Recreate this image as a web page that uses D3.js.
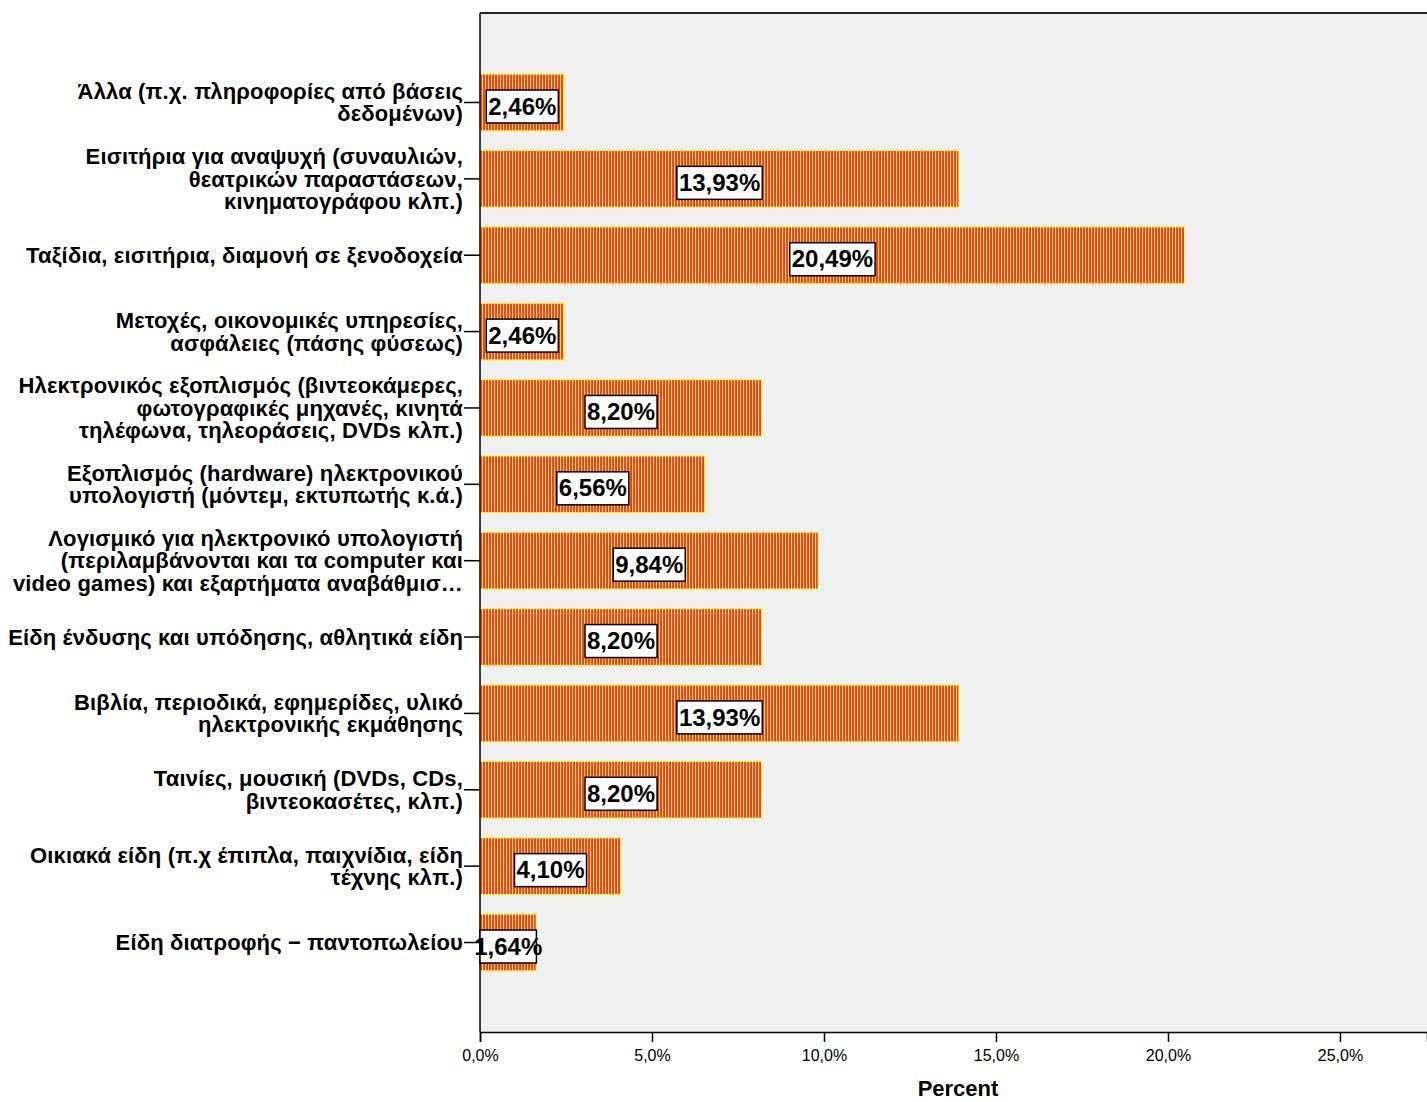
<!DOCTYPE html>
<html>
<head>
<meta charset="utf-8">
<script src="https://cdn.jsdelivr.net/npm/d3@7"></script>
<style>
  html, body { margin: 0; padding: 0; background: #fff; }
  svg { display: block; font-family: "Liberation Sans", Arial, sans-serif; }
</style>
</head>
<body>
<svg id="chart" width="1427" height="1102"></svg>
<script>
// Category labels (each entry is the list of wrapped lines), top to bottom
const categories = [
  ["Άλλα (π.χ. πληροφορίες από βάσεις", "δεδομένων)"],
  ["Εισιτήρια για αναψυχή (συναυλιών,", "θεατρικών παραστάσεων,", "κινηματογράφου κλπ.)"],
  ["Ταξίδια, εισιτήρια, διαμονή σε ξενοδοχεία"],
  ["Μετοχές, οικονομικές υπηρεσίες,", "ασφάλειες (πάσης φύσεως)"],
  ["Ηλεκτρονικός εξοπλισμός (βιντεοκάμερες,", "φωτογραφικές μηχανές, κινητά", "τηλέφωνα, τηλεοράσεις, DVDs κλπ.)"],
  ["Εξοπλισμός (hardware) ηλεκτρονικού", "υπολογιστή (μόντεμ, εκτυπωτής κ.ά.)"],
  ["Λογισμικό για ηλεκτρονικό υπολογιστή", "(περιλαμβάνονται και τα computer και", "video games) και εξαρτήματα αναβάθμισ…"],
  ["Είδη ένδυσης και υπόδησης, αθλητικά είδη"],
  ["Βιβλία, περιοδικά, εφημερίδες, υλικό", "ηλεκτρονικής εκμάθησης"],
  ["Ταινίες, μουσική (DVDs, CDs,", "βιντεοκασέτες, κλπ.)"],
  ["Οικιακά είδη (π.χ έπιπλα, παιχνίδια, είδη", "τέχνης κλπ.)"],
  ["Είδη διατροφής − παντοπωλείου"]
];

// Percent of respondents per category
const percents = [2.46, 13.93, 20.49, 2.46, 8.20, 6.56, 9.84, 8.20, 13.93, 8.20, 4.10, 1.64];

// Axis ticks
const xTicks = [0, 5, 10, 15, 20, 25];
const xAxisTitle = "Percent";

const svg = d3.select("#chart");
const plot = { left: 480, top: 13, right: 1427, bottom: 1032 };

const x = d3.scaleLinear().domain([0, 27.53]).range([plot.left, plot.right]);
const y = d3.scaleBand()
  .domain(d3.range(categories.length))
  .range([plot.top, plot.bottom])
  .paddingInner(0.25)
  .paddingOuter(0.797);

const fmt = v => v.toFixed(2).replace(".", ",") + "%";
const fmtTick = v => v.toFixed(1).replace(".", ",") + "%";

// Vertical red/yellow stripe fill for the bars
const defs = svg.append("defs");
const pat = defs.append("pattern")
  .attr("id", "stripes")
  .attr("patternUnits", "userSpaceOnUse")
  .attr("width", 3).attr("height", 10);
pat.append("rect").attr("width", 3).attr("height", 10).attr("fill", "#fcdc4c");
pat.append("rect").attr("x", 0.2).attr("width", 1.7).attr("height", 10).attr("fill", "#e52a2a");

// Plot background
svg.append("rect")
  .attr("x", plot.left).attr("y", plot.top)
  .attr("width", plot.right - plot.left).attr("height", plot.bottom - plot.top)
  .attr("fill", "#f0f0f0");

// Bars
svg.append("g").selectAll("rect")
  .data(percents)
  .join("rect")
  .attr("x", x(0))
  .attr("y", (d, i) => y(i))
  .attr("width", d => x(d) - x(0))
  .attr("height", y.bandwidth())
  .attr("fill", "url(#stripes)")
  .attr("stroke", "#fdf47a")
  .attr("stroke-width", 1.5);

// Frame line along the top
svg.append("line")
  .attr("x1", plot.left).attr("x2", plot.right)
  .attr("y1", plot.top).attr("y2", plot.top)
  .attr("stroke", "#222").attr("stroke-width", 2);

// Left axis with ticks at band centres
const yAxisG = svg.append("g");
yAxisG.append("line")
  .attr("x1", plot.left).attr("x2", plot.left)
  .attr("y1", plot.top).attr("y2", plot.bottom)
  .attr("stroke", "#000").attr("stroke-width", 1.5);
yAxisG.selectAll("line.tick")
  .data(categories)
  .join("line")
  .attr("class", "tick")
  .attr("x1", plot.left - 16).attr("x2", plot.left)
  .attr("y1", (d, i) => y(i) + y.bandwidth() / 2)
  .attr("y2", (d, i) => y(i) + y.bandwidth() / 2)
  .attr("stroke", "#000").attr("stroke-width", 1.5);

// Category labels, right aligned beside the axis
const lineH = 22.5;
yAxisG.selectAll("text.cat")
  .data(categories)
  .join("text")
  .attr("class", "cat")
  .attr("text-anchor", "end")
  .attr("font-size", 22)
  .attr("font-weight", "bold")
  .attr("letter-spacing", 0.15)
  .attr("fill", "#000")
  .each(function (lines, i) {
    const cy = y(i) + y.bandwidth() / 2;
    const y0 = cy - (lines.length - 1) * lineH / 2;
    d3.select(this).selectAll("tspan")
      .data(lines)
      .join("tspan")
      .attr("x", 463)
      .attr("y", (l, k) => y0 + k * lineH)
      .attr("dy", "0.35em")
      .text(l => l);
  });

// Bottom axis
const xAxisG = svg.append("g")
  .attr("transform", `translate(0,${plot.bottom})`)
  .call(d3.axisBottom(x).tickValues(xTicks).tickFormat(fmtTick).tickSize(10).tickPadding(8));
xAxisG.select(".domain").attr("stroke", "#000").attr("stroke-width", 1.5);
xAxisG.selectAll(".tick line").attr("stroke", "#000").attr("stroke-width", 1.5);
xAxisG.selectAll(".tick text")
  .attr("font-size", 16)
  .attr("font-family", "'Liberation Sans', Arial, sans-serif")
  .attr("fill", "#000");

svg.append("text")
  .attr("x", 958)
  .attr("y", 1096)
  .attr("text-anchor", "middle")
  .attr("font-size", 22)
  .attr("font-weight", "bold")
  .attr("fill", "#000")
  .text(xAxisTitle);

// Value labels: white boxes centred on each bar
const labelG = svg.append("g");
percents.forEach((v, i) => {
  const cx = (x(0) + x(v)) / 2;
  const cy = y(i) + y.bandwidth() / 2 + 3.5;
  const g = labelG.append("g");
  const t = g.append("text")
    .attr("x", cx).attr("y", cy)
    .attr("dy", "0.36em")
    .attr("text-anchor", "middle")
    .attr("font-size", 24)
    .attr("font-weight", "bold")
    .attr("fill", "#000")
    .text(fmt(v));
  const w = t.node().getComputedTextLength() + 4;
  const bx0 = Math.max(cx - w / 2, x(0));
  const bx1 = Math.min(cx + w / 2, x(v));
  g.insert("rect", "text")
    .attr("x", bx0).attr("y", cy - 16)
    .attr("width", bx1 - bx0).attr("height", 33)
    .attr("fill", "#fff")
    .attr("stroke", "#000")
    .attr("stroke-width", 1.5);
});
</script>
</body>
</html>
